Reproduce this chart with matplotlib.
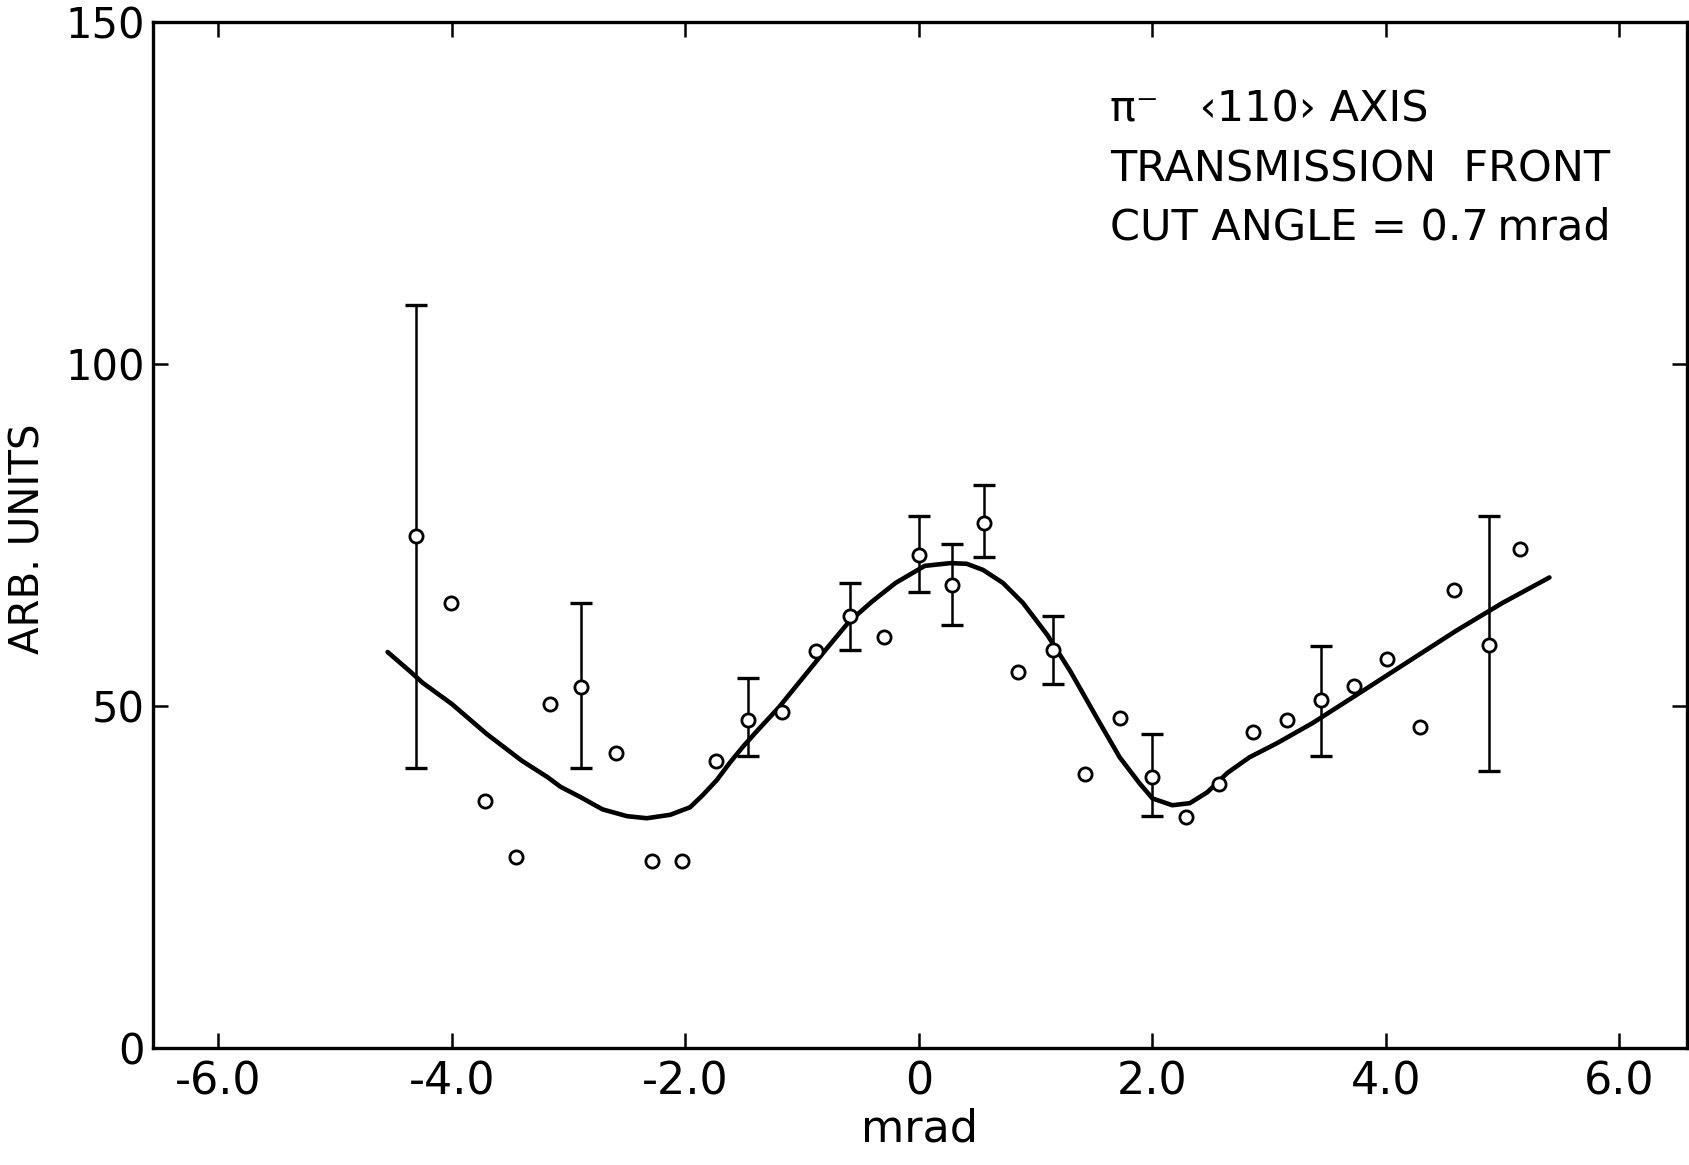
import matplotlib
matplotlib.use("Agg")
import matplotlib.pyplot as plt
import numpy as np

# ---- data ----
pts_x = [-4.31, -4.01, -3.72, -3.45, -3.16, -2.89, -2.59, -2.29, -2.03, -1.74,
         -1.46, -1.17, -0.88, -0.59, -0.30, 0.00, 0.28, 0.56, 0.85, 1.15,
         1.42, 1.72, 2.00, 2.29, 2.57, 2.86, 3.15, 3.44, 3.73, 4.01,
         4.29, 4.58, 4.88, 5.15]
pts_y = [74.8, 65.1, 36.1, 27.9, 50.3, 52.8, 43.1, 27.3, 27.3, 42.0,
         47.9, 49.1, 58.0, 63.1, 60.1, 72.1, 67.7, 76.8, 55.0, 58.2,
         40.1, 48.3, 39.6, 33.8, 38.6, 46.2, 47.9, 50.9, 53.0, 56.9,
         47.0, 66.9, 59.0, 72.9]

# points carrying error bars
err_x = [-4.31, -2.89, -1.46, -0.59, 0.00, 0.28, 0.56, 1.15, 2.00, 3.44, 4.88]
err_y = [74.8, 52.8, 47.9, 63.1, 72.1, 67.7, 76.8, 58.2, 39.6, 50.9, 59.0]
err_hi = [108.7, 65.0, 54.1, 68.0, 77.8, 73.7, 82.3, 63.2, 45.9, 58.8, 77.8]
err_lo = [41.0, 41.0, 42.7, 58.2, 66.7, 61.8, 71.8, 53.2, 33.9, 42.7, 40.5]

# fitted curve
curve_x = [-4.55, -4.36, -4.25, -4.0, -3.7, -3.4, -3.18, -3.07, -2.90, -2.71,
           -2.50, -2.33, -2.13, -1.96, -1.85, -1.73, -1.62, -1.51, -1.4, -1.2,
           -1.0, -0.8, -0.6, -0.5, -0.4, -0.2, -0.06, 0.05, 0.27, 0.41,
           0.55, 0.72, 0.89, 1.10, 1.3, 1.55, 1.72, 1.89, 2.00, 2.17,
           2.32, 2.47, 2.64, 2.83, 3.07, 3.37, 3.8, 4.2, 4.6, 5.0, 5.4]
curve_y = [57.9, 55.1, 53.4, 50.3, 45.9, 42.0, 39.6, 38.2, 36.7, 34.9,
           33.9, 33.6, 34.1, 35.2, 37.0, 39.2, 41.7, 44.0, 46.1, 49.8,
           54.0, 58.2, 62.3, 63.8, 65.3, 68.0, 69.4, 70.5, 70.9, 70.8,
           69.9, 68.0, 65.1, 60.4, 55.0, 47.5, 42.5, 38.7, 36.5, 35.5,
           35.8, 37.4, 40.2, 42.5, 44.6, 47.5, 52.2, 56.6, 61.0, 65.1, 68.8]

x_ticks = [-6.0, -4.0, -2.0, 0.0, 2.0, 4.0, 6.0]
x_ticklabels = ["-6.0", "-4.0", "-2.0", "0", "2.0", "4.0", "6.0"]
y_ticks = [0, 50, 100, 150]
y_ticklabels = ["0", "50", "100", "150"]

annot_lines = ["\u03c0\u207b   \u2039110\u203a AXIS", "TRANSMISSION  FRONT",
               "CUT ANGLE = 0.7\u2009mrad"]

# ---- figure ----
fig = plt.figure(figsize=(16.90, 11.65), dpi=100)
ax = fig.add_axes([0.0905, 0.1004, 0.9075, 0.8806])

ax.plot(curve_x, curve_y, color="black", lw=3.3, solid_capstyle="round",
        solid_joinstyle="round", zorder=2)

yerr = [np.array(err_y) - np.array(err_lo), np.array(err_hi) - np.array(err_y)]
ax.errorbar(err_x, err_y, yerr=yerr, fmt="none", ecolor="black",
            elinewidth=1.8, capsize=8, capthick=2.4, zorder=3)
ax.plot(pts_x, pts_y, "o", ms=9.5, mfc="white", mec="black", mew=2.0, zorder=4)

ax.set_xlim(-6.56, 6.575)
ax.set_ylim(0, 150)

ax.set_xticks(x_ticks)
ax.set_xticklabels(x_ticklabels)
ax.set_yticks(y_ticks)
ax.set_yticklabels(y_ticklabels)

ax.tick_params(axis="both", direction="in", length=11, width=1.8,
               top=True, right=True)
ax.tick_params(axis="x", labelsize=32, pad=9)
ax.tick_params(axis="y", labelsize=30, pad=6)
for sp in ax.spines.values():
    sp.set_linewidth(2.4)

ax.set_xlabel("mrad", fontsize=32)
ax.xaxis.set_label_coords(0.5, -0.058)
ax.set_ylabel("ARB. UNITS", fontsize=29)
ax.yaxis.set_label_coords(-0.068, 0.496)

tx = 1110 / 1690
for i, line in enumerate(annot_lines):
    fig.text(tx, 1 - (122 + 59 * i) / 1165, line, fontsize=31,
             va="baseline", ha="left", color="black")

fig.savefig("out.png", dpi=100, facecolor="white")
